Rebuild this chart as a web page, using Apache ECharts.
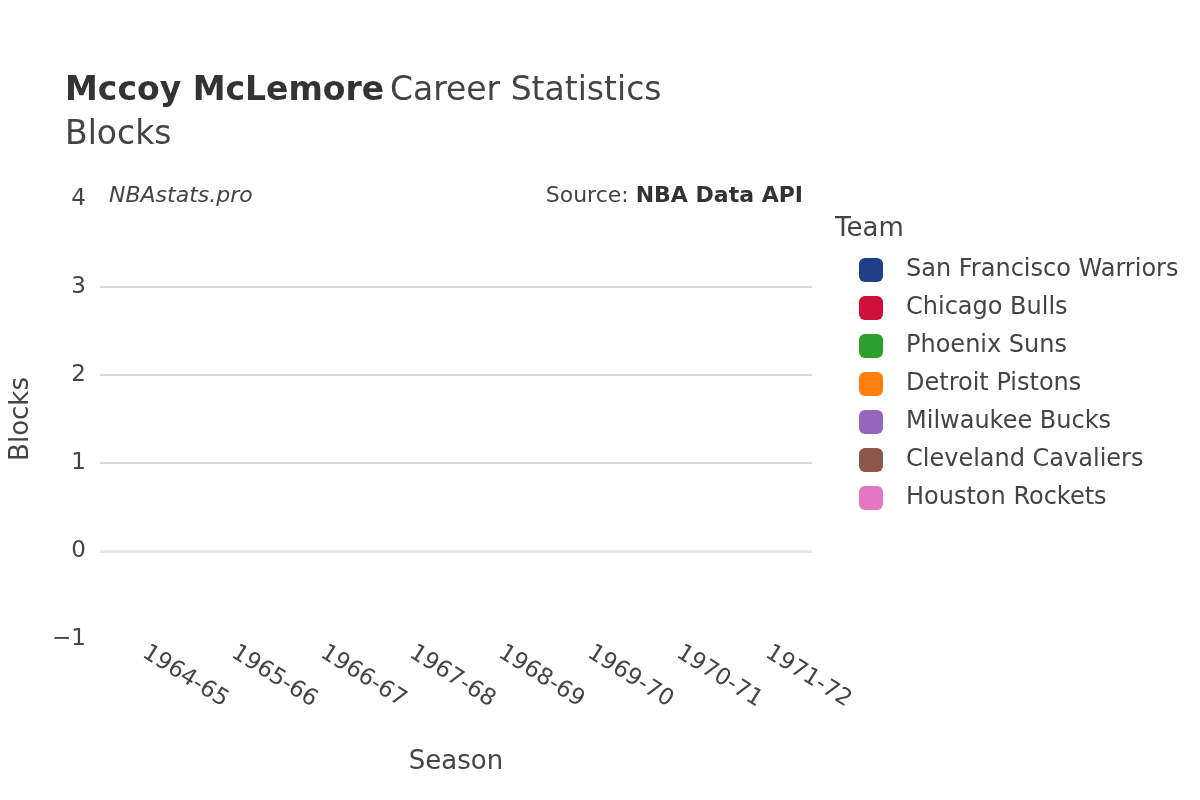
<!DOCTYPE html>
<html>
<head>
<meta charset="utf-8">
<title>Blocks</title>
<script src="https://cdn.jsdelivr.net/npm/echarts@6/dist/echarts.min.js"></script>
</head>
<body style="margin:0">
<div id="chart" style="width:1200px;height:800px;"></div>
<script>
// seasons on the x axis
var seasons = ['1964-65', '1965-66', '1966-67', '1967-68', '1968-69', '1969-70', '1970-71', '1971-72'];
// teams in the legend (no block values shown in the chart)
var teams = ['San Francisco Warriors', 'Chicago Bulls', 'Phoenix Suns', 'Detroit Pistons',
             'Milwaukee Bucks', 'Cleveland Cavaliers', 'Houston Rockets'];
var teamColors = ['#1f3f8a', '#ce1138', '#2ca02c', '#ff7f0e', '#9467bd', '#8c564b', '#e377c2'];
var blocks = [null, null, null, null, null, null, null, null];

var chart = echarts.init(document.getElementById('chart'));
var font = 'DejaVu Sans';

var series = teams.map(function (t, i) {
    return { name: t, type: 'line', data: blocks, itemStyle: { color: teamColors[i] }, showSymbol: false };
});
series[0].markLine = {
    silent: true, symbol: 'none', label: { show: false },
    lineStyle: { color: '#e8e8e8', width: 3, type: 'solid' },
    data: [{ yAxis: 0 }]
};

chart.setOption({
    backgroundColor: '#fff',
    textStyle: { fontFamily: font },
    title: [{
        left: 60, top: 64,
        text: '{b|Mccoy McLemore} {n|Career Statistics}\n{n|Blocks}',
        textStyle: { fontWeight: 'normal', rich: {
            b: { fontFamily: font, fontSize: 33, fontWeight: 'bold', color: '#333', lineHeight: 44 },
            n: { fontFamily: font, fontSize: 33, fontWeight: 'normal', color: '#444', lineHeight: 44 }
        } }
    }, {
        left: 104, top: 180, text: 'NBAstats.pro',
        textStyle: { fontFamily: font, fontSize: 22, fontStyle: 'italic', fontWeight: 'normal', color: '#444' }
    }, {
        right: 392, top: 180, text: '{n|Source: }{b|NBA Data API}',
        textStyle: { fontWeight: 'normal', rich: {
            n: { fontFamily: font, fontSize: 22, fontWeight: 'normal', color: '#444' },
            b: { fontFamily: font, fontSize: 22, fontWeight: 'bold', color: '#333' }
        } }
    }, {
        left: 830, top: 211, text: 'Team',
        textStyle: { fontFamily: font, fontSize: 26, fontWeight: 'normal', color: '#444' }
    }],
    legend: {
        orient: 'vertical', left: 854, top: 253,
        itemWidth: 24, itemHeight: 24, itemGap: 14, icon: 'roundRect',
        textStyle: { fontFamily: font, fontSize: 24, color: '#444', padding: [0, 0, 0, 18] },
        data: teams
    },
    grid: { left: 98, right: 388, top: 199, bottom: 161 },
    xAxis: {
        type: 'category', data: seasons, boundaryGap: true,
        name: 'Season', nameLocation: 'middle', nameGap: 110,
        nameTextStyle: { fontFamily: font, fontSize: 26, color: '#444' },
        axisLine: { show: false }, axisTick: { show: false },
        axisLabel: { rotate: -32, fontFamily: font, fontSize: 23, color: '#444', margin: 12 }
    },
    yAxis: {
        type: 'value', min: -1, max: 4, interval: 1,
        name: 'Blocks', nameLocation: 'middle', nameGap: 66,
        nameTextStyle: { fontFamily: font, fontSize: 26, color: '#444' },
        axisLine: { show: false }, axisTick: { show: false },
        axisLabel: { fontFamily: font, fontSize: 23, color: '#444', margin: 14,
            formatter: function (v) { return v < 0 ? '\u2212' + (-v) : v; } },
        splitLine: { lineStyle: { color: ['transparent', 'transparent', '#c8c8c8', '#c8c8c8', '#c8c8c8', 'transparent'], width: 1.5 } }
    },
    series: series
});
</script>
</body>
</html>
